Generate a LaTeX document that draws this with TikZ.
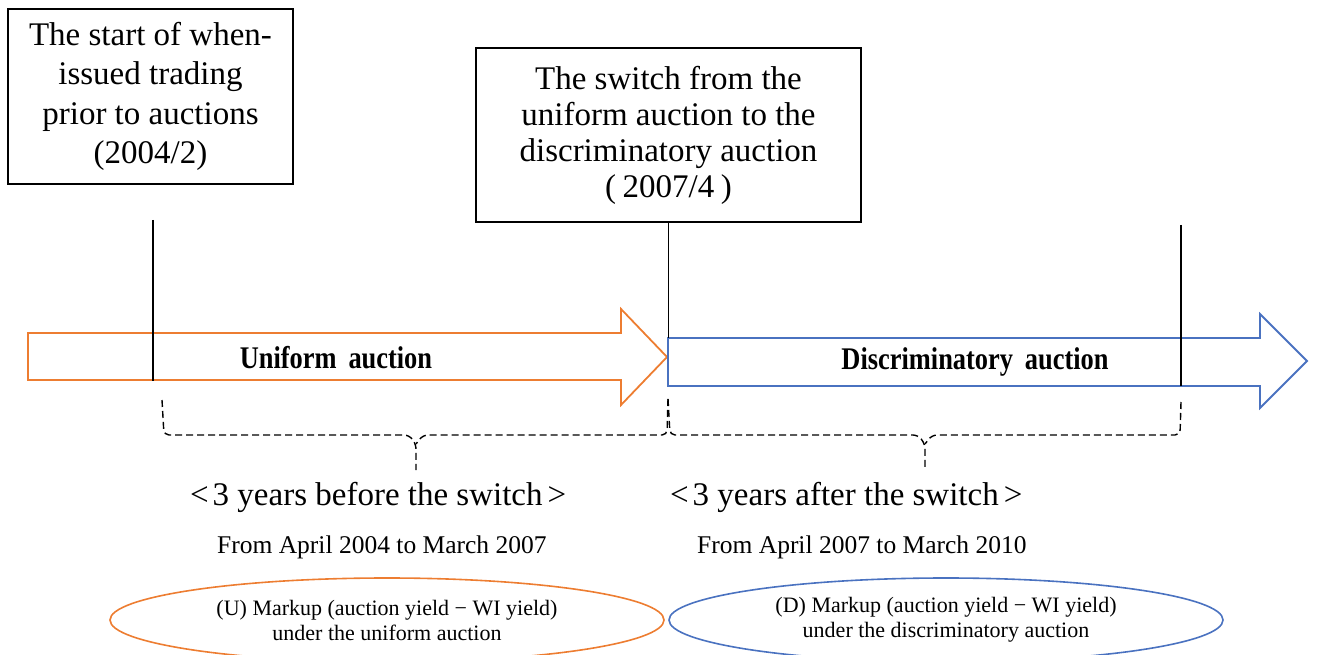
\documentclass[tikz,border=0pt]{standalone}
\usepackage{fontspec}
\setmainfont{Liberation Serif}
\usetikzlibrary{calc}
\definecolor{aorange}{HTML}{ED7D31}
\definecolor{ablue}{HTML}{4A72C0}
\begin{document}
\begin{tikzpicture}[x=1pt,y=-1pt,
  box/.style={draw, line width=1.4pt, align=center, inner sep=0pt},
  vline/.style={line width=1.3pt},
  arrowshape/.style={line width=1.8pt, line join=miter},
  bracedash/.style={line width=1.4pt, dash pattern=on 7pt off 4pt, rounded corners=5pt},
  arrlabel/.style={font=\fontsize{30}{30}\selectfont\bfseries},
  periodtext/.style={font=\fontsize{33}{36}\selectfont, anchor=base west, inner sep=0pt},
  rangetext/.style={font=\fontsize{25.5}{28}\selectfont, anchor=base west, inner sep=0pt},
  markup/.style={line width=1.6pt},
  etext/.style={font=\fontsize{22}{25}\selectfont, align=center, inner sep=0pt}
]
\useasboundingbox (0,0) rectangle (1317,655);

% boxes
\node[box, minimum width=285, minimum height=175, font=\fontsize{33}{39.5}\selectfont] (start) at (150.5,96.5)
  {The start of when-\\issued trading\\prior to auctions\\(2004/2)};
\node[box, minimum width=385, minimum height=174, font=\fontsize{33}{36}\selectfont] (switch) at (668.5,135)
  {The switch from the\\uniform auction to the\\discriminatory auction\\(\hspace{0.2em}2007/4\hspace{0.2em})};

% arrows
\draw[aorange, arrowshape] (28,333) -- (621,333) -- (621,309) -- (667,357) -- (621,405) -- (621,380) -- (28,380) -- cycle;
\draw[ablue, arrowshape] (668,338) -- (1260,338) -- (1260,314) -- (1307,361) -- (1260,408) -- (1260,386) -- (668,386) -- cycle;

\node[arrlabel] (uni) at (336,358) {\scalebox{0.88}[1.05]{Uniform\hspace{0.45em}auction}};
\node[arrlabel] (dis) at (975,362) {\scalebox{0.88}[1.05]{Discriminatory\hspace{0.45em}auction}};

% vertical markers
\coordinate (m1t) at (153,220);
\coordinate (m1b) at (153,381);
\coordinate (m2b) at (668,338);
\coordinate (m3t) at (1181,225);
\coordinate (m3b) at (1181,386);
\draw[vline] (m1t) -- (m1b);
\draw[vline] (switch.south) -- (switch.south |- m2b);
\draw[vline] (m3t) -- (m3b);

% braces
\coordinate (b1l) at (162,400);
\coordinate (b1r) at (668,399);
\coordinate (b1m) at (416,444);
\coordinate (b1tip) at (416,470);
\draw[bracedash] (b1l) -- (164,435) -- (409,435) -- (b1m) -- (b1tip);
\draw[bracedash] (b1r) -- (667,435) -- (423,435) -- (b1m);
\coordinate (b2r) at (1181,402);
\coordinate (b2m) at (925,444);
\coordinate (b2tip) at (925,470);
\draw[bracedash] (b1r) -- (670,435) -- (918,435) -- (b2m) -- (b2tip);
\draw[bracedash] (b2r) -- (1180,435) -- (932,435) -- (b2m);

% period texts
\node[periodtext] (before) at (190,505) {<\hspace{0.12em}3 years before the switch\hspace{0.15em}>};
\node[rangetext] (r1) at (217,553) {From April 2004 to March 2007};
\node[periodtext] (after) at (670,505) {<\hspace{0.12em}3 years after the switch\hspace{0.15em}>};
\node[rangetext] (r2) at (697,553) {From April 2007 to March 2010};

% ellipses
\draw[aorange, markup] (387,620) ellipse [x radius=277, y radius=42];
\draw[ablue, markup] (946,620) ellipse [x radius=277, y radius=42];
\node[etext] (u) at (387,620) {(U) Markup (auction yield − WI yield)\\under the uniform auction};
\node[etext] (d) at (946,620) {(D) Markup (auction yield − WI yield)\\under the discriminatory auction};
\end{tikzpicture}
\end{document}
